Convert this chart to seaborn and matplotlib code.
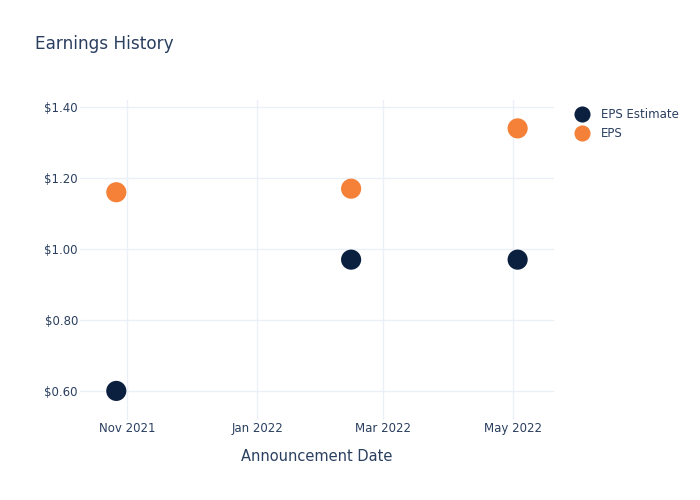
import matplotlib
matplotlib.use("Agg")
import matplotlib.pyplot as plt
import matplotlib.dates as mdates
import matplotlib.ticker as mticker
import pandas as pd
import seaborn as sns

# Earnings history values
ANNOUNCE_DATES = ["2021-10-27", "2022-02-14", "2022-05-03"]
EPS_ESTIMATE = [0.60, 0.97, 0.97]
EPS_ACTUAL = [1.16, 1.17, 1.34]
SERIES_NAMES = ["EPS Estimate", "EPS"]
SERIES_COLORS = ["#0b1f3f", "#f58038"]

TEXT_COLOR = "#2a3f5f"
GRID_COLOR = "#ebf0f8"

dates = pd.to_datetime(ANNOUNCE_DATES)
df = pd.concat([
    pd.DataFrame({"date": dates, "value": EPS_ESTIMATE, "series": SERIES_NAMES[0]}),
    pd.DataFrame({"date": dates, "value": EPS_ACTUAL, "series": SERIES_NAMES[1]}),
], ignore_index=True)

sns.set_theme(style="white")
plt.rcParams["font.family"] = ["DejaVu Sans"]

fig = plt.figure(figsize=(7, 5), dpi=100)
ax = fig.add_axes([0.1143, 0.16, 0.677, 0.64])

sns.scatterplot(
    data=df, x="date", y="value", hue="series", hue_order=SERIES_NAMES,
    palette=dict(zip(SERIES_NAMES, SERIES_COLORS)), s=210, linewidth=0,
    edgecolor="none", ax=ax, zorder=3, legend=True,
)

ax.set_xlim(pd.Timestamp("2021-10-10"), pd.Timestamp("2022-05-20"))
ax.set_ylim(0.518, 1.42)

ax.xaxis.set_major_locator(mdates.MonthLocator(bymonth=[1, 3, 5, 11]))
ax.xaxis.set_major_formatter(mdates.DateFormatter("%b %Y"))
ax.yaxis.set_major_locator(mticker.MultipleLocator(0.2))
ax.yaxis.set_major_formatter(mticker.FuncFormatter(lambda v, _: f"${v:.2f}"))

ax.grid(True, color=GRID_COLOR, linewidth=1)
ax.set_axisbelow(True)
for sp in ax.spines.values():
    sp.set_visible(False)
ax.tick_params(axis="both", length=0, labelsize=8.5, colors=TEXT_COLOR)
ax.tick_params(axis="x", pad=1.5)
ax.tick_params(axis="y", pad=1.5)

ax.set_xlabel("Announcement Date", fontsize=10.5, color=TEXT_COLOR, labelpad=10)
ax.set_ylabel("")

fig.text(0.05, 0.912, "Earnings History", fontsize=12.2, color=TEXT_COLOR,
         ha="left", va="center")

handles, labels = ax.get_legend_handles_labels()
for h in handles:
    h.set_markeredgewidth(0)
leg = ax.legend(handles, labels, loc="upper left", bbox_to_anchor=(1.025, 0.99),
                frameon=False, fontsize=8.5, markerscale=0.8, handletextpad=0.6,
                labelspacing=0.5, borderaxespad=0)
for t in leg.get_texts():
    t.set_color(TEXT_COLOR)

fig.savefig("out.png", dpi=100)
plt.close(fig)
